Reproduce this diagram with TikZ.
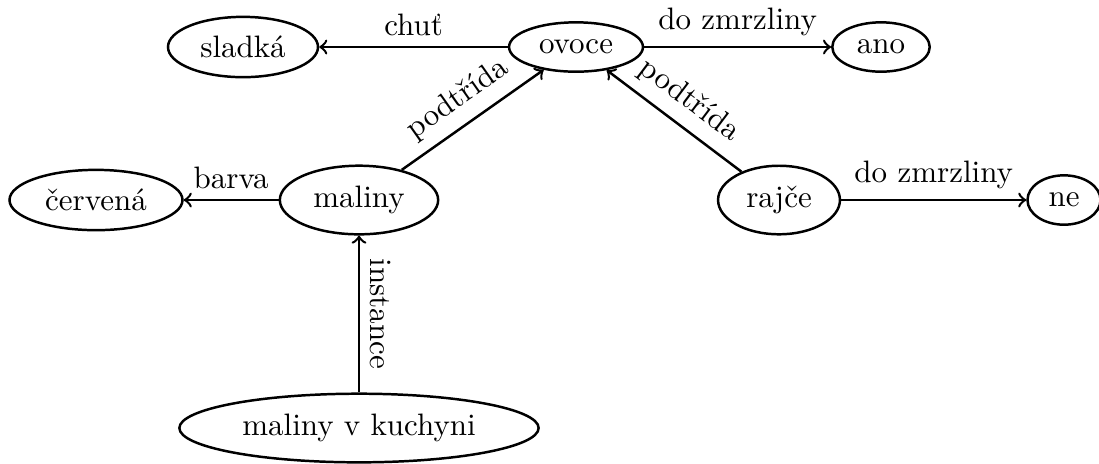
\documentclass[tikz,border=0pt]{standalone}
\usepackage{fontspec}
\usetikzlibrary{shapes.geometric}
\begin{document}
\begin{tikzpicture}[x=0.3226pt,y=-0.3226pt,
  concept/.style={draw, ellipse, thick},
  rel/.style={->, thick}]
\useasboundingbox (0,0) rectangle (1099,463);
\node[concept] (ovoce) at (576,47) {ovoce};
\node[concept] (sladka) at (243,47) {sladká};
\node[concept] (ano) at (881,47) {ano};
\node[concept] (cervena) at (96,200) {červená};
\node[concept] (maliny) at (359,200) {maliny};
\node[concept] (rajce) at (779,200) {rajče};
\node[concept] (ne) at (1064,200) {ne};
\node[concept] (mvk) at (359,428) {maliny v kuchyni};
\draw[rel] (ovoce) -- node[above] {chuť} (sladka);
\draw[rel] (ovoce) -- node[above] {do zmrzliny} (ano);
\draw[rel] (maliny) -- node[above, sloped] {podtřída} (ovoce);
\draw[rel] (rajce) -- node[above, sloped] {podtřída} (ovoce);
\draw[rel] (maliny) -- node[above] {barva} (cervena);
\draw[rel] (rajce) -- node[above] {do zmrzliny} (ne);
\draw[rel, <-] (maliny) -- node[above, sloped] {instance} (mvk);
\end{tikzpicture}
\end{document}
